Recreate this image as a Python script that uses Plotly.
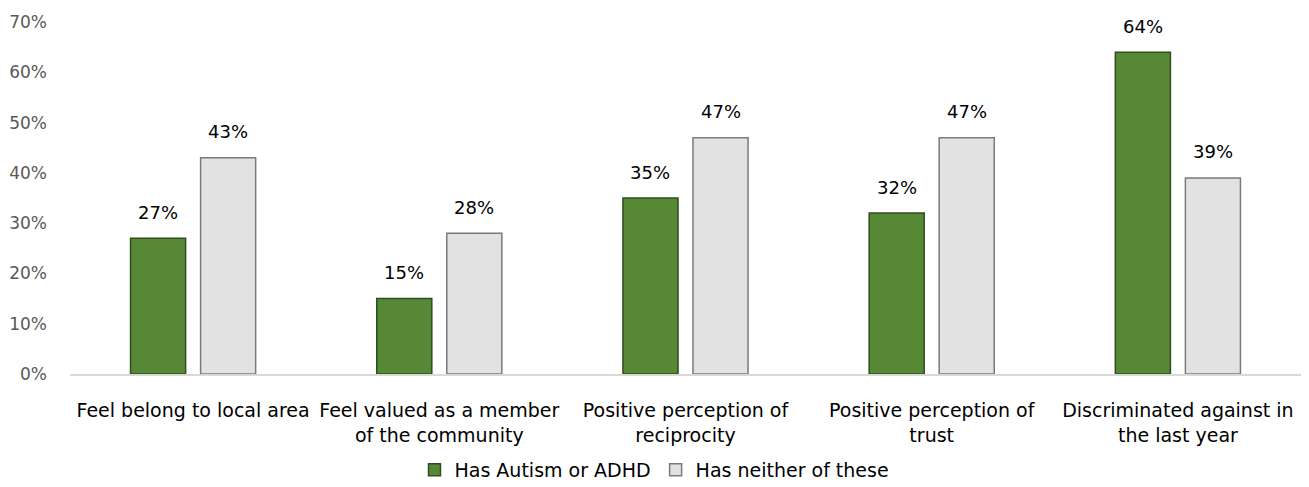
import plotly.graph_objects as go

categories = [
    "Feel belong to local area",
    "Feel valued as a member<br>of the community",
    "Positive perception of<br>reciprocity",
    "Positive perception of<br>trust",
    "Discriminated against in<br>the last year",
]
autism_adhd = [27, 15, 35, 32, 64]
neither = [43, 28, 47, 47, 39]
series_names = ["Has Autism or ADHD", "Has neither of these"]
tick_vals = [0, 10, 20, 30, 40, 50, 60, 70]
tick_text = ["0%", "10%", "20%", "30%", "40%", "50%", "60%", "70%"]

FONT = "DejaVu Sans"
W, H = 1309, 487
ML, MR, MT, MB = 70, 8, 22, 113
BARGAP, GROUPGAP = 0.431, 0.214

fig = go.Figure()
fig.add_trace(go.Bar(
    x=categories, y=autism_adhd, name=series_names[0],
    marker=dict(color="#568836", line=dict(color="#2f4d1d", width=1.5)),
))
fig.add_trace(go.Bar(
    x=categories, y=neither, name=series_names[1],
    marker=dict(color="#e2e2e2", line=dict(color="#7a7a7a", width=1.5)),
))

# data labels above bars, offset to each bar's slot within the group
cat_w = (W - ML - MR) / len(categories)
slot = cat_w * (1 - BARGAP) / 2
for series, sign in ((autism_adhd, -1), (neither, 1)):
    for c, v in zip(categories, series):
        fig.add_annotation(x=c, y=v, xref="x", yref="y", text=f"{v}%",
                           showarrow=False, xshift=sign * slot / 2, yshift=26,
                           yanchor="middle",
                           font=dict(size=18, color="#000000", family=FONT))

fig.update_layout(
    width=W, height=H,
    margin=dict(l=ML, r=MR, t=MT, b=MB),
    paper_bgcolor="white", plot_bgcolor="white",
    barmode="group", bargap=BARGAP, bargroupgap=GROUPGAP,
    font=dict(family=FONT, size=19, color="#000000"),
    legend=dict(orientation="h", xref="container", x=0.5, xanchor="center",
                yref="container", y=1 - 470 / H, yanchor="middle",
                font=dict(size=19, color="#000000", family=FONT),
                itemwidth=30, traceorder="normal"),
    showlegend=True,
)
fig.update_yaxes(range=[0, 70], tickvals=tick_vals, ticktext=tick_text,
                 showgrid=False, zeroline=False, showline=False, automargin=False,
                 tickfont=dict(size=17, color="#595959", family=FONT), ticklabelstandoff=22)
fig.update_xaxes(showline=True, linecolor="#d9d9d9", linewidth=2, ticks="", automargin=False,
                 ticklabelstandoff=18,
                 tickfont=dict(size=19, color="#000000", family=FONT))

fig.write_html("out.html", config={"displayModeBar": False},
               post_script="document.body.style.margin='0px';")
